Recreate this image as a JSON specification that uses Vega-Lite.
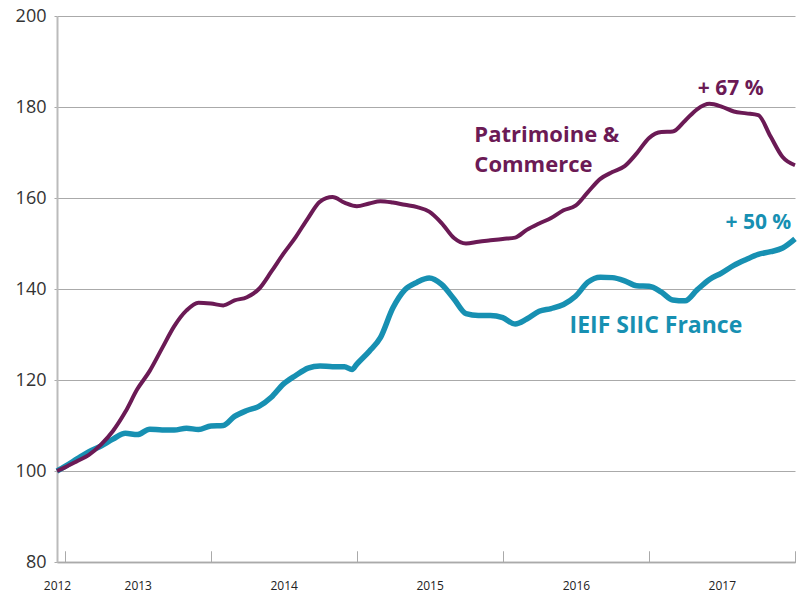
{
  "$schema": "https://vega.github.io/schema/vega-lite/v6.json",
  "width": 738,
  "height": 546,
  "autosize": "none",
  "padding": {"left": 57, "top": 16, "right": 15, "bottom": 30},
  "background": "white",
  "config": {"view": {"stroke": null}, "font": "Open Sans"},
  "datasets": {
    "ieif": [
      {"d": "2012-12-12", "v": 100},
      {"d": "2013-01-01", "v": 101}, {"d": "2013-02-01", "v": 102.7}, {"d": "2013-03-01", "v": 104.2}, {"d": "2013-04-01", "v": 105.5},
      {"d": "2013-05-01", "v": 107}, {"d": "2013-06-01", "v": 108.3}, {"d": "2013-07-01", "v": 108}, {"d": "2013-08-01", "v": 109.2},
      {"d": "2013-09-01", "v": 109}, {"d": "2013-10-01", "v": 109}, {"d": "2013-11-01", "v": 109.4}, {"d": "2013-12-01", "v": 109.1},
      {"d": "2014-01-01", "v": 109.9}, {"d": "2014-02-01", "v": 110}, {"d": "2014-03-01", "v": 112}, {"d": "2014-04-01", "v": 113.3},
      {"d": "2014-05-01", "v": 114.2}, {"d": "2014-06-01", "v": 116.2}, {"d": "2014-07-01", "v": 119.1}, {"d": "2014-08-01", "v": 121},
      {"d": "2014-09-01", "v": 122.6}, {"d": "2014-10-01", "v": 123.1}, {"d": "2014-11-01", "v": 122.9}, {"d": "2014-12-01", "v": 122.9},
      {"d": "2014-12-20", "v": 122.3},
      {"d": "2015-01-01", "v": 123.5}, {"d": "2015-02-01", "v": 126.3}, {"d": "2015-03-01", "v": 129.3}, {"d": "2015-04-01", "v": 135.8},
      {"d": "2015-05-01", "v": 139.8}, {"d": "2015-06-01", "v": 141.5}, {"d": "2015-07-01", "v": 142.4}, {"d": "2015-08-01", "v": 141},
      {"d": "2015-09-01", "v": 137.8}, {"d": "2015-10-01", "v": 134.6}, {"d": "2015-11-01", "v": 134.2}, {"d": "2015-12-01", "v": 134.2},
      {"d": "2016-01-01", "v": 133.7}, {"d": "2016-02-01", "v": 132.3}, {"d": "2016-03-01", "v": 133.4}, {"d": "2016-04-01", "v": 135.1},
      {"d": "2016-05-01", "v": 135.7}, {"d": "2016-06-01", "v": 136.6}, {"d": "2016-07-01", "v": 138.4}, {"d": "2016-08-01", "v": 141.5},
      {"d": "2016-09-01", "v": 142.6}, {"d": "2016-10-01", "v": 142.5}, {"d": "2016-11-01", "v": 141.8}, {"d": "2016-12-01", "v": 140.7},
      {"d": "2017-01-01", "v": 140.6}, {"d": "2017-02-01", "v": 139.3}, {"d": "2017-03-01", "v": 137.6}, {"d": "2017-04-01", "v": 137.4},
      {"d": "2017-05-01", "v": 139.8}, {"d": "2017-06-01", "v": 142.1}, {"d": "2017-07-01", "v": 143.5}, {"d": "2017-08-01", "v": 145.2},
      {"d": "2017-09-01", "v": 146.5}, {"d": "2017-10-01", "v": 147.6}, {"d": "2017-11-01", "v": 148.2}, {"d": "2017-12-01", "v": 149},
      {"d": "2018-01-01", "v": 151}
    ],
    "pc": [
      {"d": "2012-12-12", "v": 100},
      {"d": "2013-01-01", "v": 100.8}, {"d": "2013-02-01", "v": 102.2}, {"d": "2013-03-01", "v": 103.5}, {"d": "2013-04-01", "v": 105.8},
      {"d": "2013-05-01", "v": 108.8}, {"d": "2013-06-01", "v": 113}, {"d": "2013-07-01", "v": 118}, {"d": "2013-08-01", "v": 122},
      {"d": "2013-09-01", "v": 127}, {"d": "2013-10-01", "v": 131.8}, {"d": "2013-11-01", "v": 135.3}, {"d": "2013-12-01", "v": 137},
      {"d": "2014-01-01", "v": 136.8}, {"d": "2014-02-01", "v": 136.4}, {"d": "2014-03-01", "v": 137.5}, {"d": "2014-04-01", "v": 138.2},
      {"d": "2014-05-01", "v": 140}, {"d": "2014-06-01", "v": 143.8}, {"d": "2014-07-01", "v": 147.7}, {"d": "2014-08-01", "v": 151.4},
      {"d": "2014-09-01", "v": 155.6}, {"d": "2014-10-01", "v": 159.2}, {"d": "2014-11-01", "v": 160.2}, {"d": "2014-12-01", "v": 159},
      {"d": "2015-01-01", "v": 158.2}, {"d": "2015-02-01", "v": 158.8}, {"d": "2015-03-01", "v": 159.3}, {"d": "2015-04-01", "v": 159},
      {"d": "2015-05-01", "v": 158.5}, {"d": "2015-06-01", "v": 158}, {"d": "2015-07-01", "v": 157}, {"d": "2015-08-01", "v": 154.5},
      {"d": "2015-09-01", "v": 151.2}, {"d": "2015-10-01", "v": 150}, {"d": "2015-11-01", "v": 150.4}, {"d": "2015-12-01", "v": 150.7},
      {"d": "2016-01-01", "v": 151}, {"d": "2016-02-01", "v": 151.3}, {"d": "2016-03-01", "v": 153}, {"d": "2016-04-01", "v": 154.4},
      {"d": "2016-05-01", "v": 155.6}, {"d": "2016-06-01", "v": 157.3}, {"d": "2016-07-01", "v": 158.3}, {"d": "2016-08-01", "v": 161.3},
      {"d": "2016-09-01", "v": 164.2}, {"d": "2016-10-01", "v": 165.7}, {"d": "2016-11-01", "v": 167}, {"d": "2016-12-01", "v": 169.8},
      {"d": "2017-01-01", "v": 173.2}, {"d": "2017-02-01", "v": 174.5}, {"d": "2017-03-01", "v": 174.6}, {"d": "2017-04-01", "v": 177},
      {"d": "2017-05-01", "v": 179.5}, {"d": "2017-06-01", "v": 180.7}, {"d": "2017-07-01", "v": 180.1}, {"d": "2017-08-01", "v": 179},
      {"d": "2017-09-01", "v": 178.6}, {"d": "2017-10-01", "v": 178.2}, {"d": "2017-11-01", "v": 173.5}, {"d": "2017-12-01", "v": 169},
      {"d": "2018-01-01", "v": 167.2}
    ],
    "labels": [
      {"d": "2015-10-22", "v": 172.3, "t": "Patrimoine &", "s": "P"},
      {"d": "2015-10-22", "v": 165.7, "t": "Commerce", "s": "P"},
      {"d": "2017-05-03", "v": 182.6, "t": "+ 67 %", "s": "P"},
      {"d": "2017-07-11", "v": 153.2, "t": "+ 50 %", "s": "I"},
      {"d": "2016-06-16", "v": 130.3, "t": "IEIF SIIC France", "s": "I"}
    ]
  },
  "encoding": {
    "x": {
      "field": "d", "type": "temporal",
      "scale": {"type": "utc", "domain": [{"year": 2012, "month": 12, "date": 12, "utc": true}, {"year": 2018, "month": 1, "date": 1, "utc": true}]},
      "axis": {
        "orient": "bottom", "title": null, "grid": false, "labels": false,
        "values": [
          {"year": 2013, "month": 1, "date": 1, "utc": true},
          {"year": 2014, "month": 1, "date": 1, "utc": true},
          {"year": 2015, "month": 1, "date": 1, "utc": true},
          {"year": 2016, "month": 1, "date": 1, "utc": true},
          {"year": 2017, "month": 1, "date": 1, "utc": true},
          {"year": 2018, "month": 1, "date": 1, "utc": true}
        ],
        "tickSize": -11, "tickColor": "#aaaaaa", "tickWidth": 1,
        "domainColor": "#aaaaaa", "domainWidth": 1.5
      }
    },
    "y": {
      "field": "v", "type": "quantitative",
      "scale": {"domain": [80, 200], "nice": false, "zero": false},
      "axis": {
        "title": null, "values": [80, 100, 120, 140, 160, 180, 200],
        "grid": true, "gridColor": "#aaaaaa", "gridWidth": 1,
        "tickSize": 3, "tickColor": "#aaaaaa",
        "domainColor": "#bbbbbb", "domainWidth": 2,
        "labelFontSize": 18, "labelColor": "#333333", "labelPadding": 8, "labelFont": "Open Sans"
      }
    }
  },
  "layer": [
    {
      "data": {"name": "ieif"},
      "mark": {"type": "line", "color": "#1790b2", "strokeWidth": 5.5, "interpolate": "monotone"}
    },
    {
      "data": {"name": "pc"},
      "mark": {"type": "line", "color": "#6b1a55", "strokeWidth": 4, "interpolate": "monotone"}
    },
    {
      "data": {"name": "labels"},
      "mark": {"type": "text", "align": "left", "baseline": "alphabetic", "fontWeight": "bold", "font": "Open Sans"},
      "encoding": {
        "x": {
          "field": "d", "type": "temporal",
          "axis": {
            "orient": "bottom", "title": null, "grid": false, "ticks": false, "domain": false,
            "values": [
              {"year": 2012, "month": 12, "date": 12, "utc": true},
              {"year": 2013, "month": 7, "date": 2, "utc": true},
              {"year": 2014, "month": 7, "date": 2, "utc": true},
              {"year": 2015, "month": 7, "date": 2, "utc": true},
              {"year": 2016, "month": 7, "date": 2, "utc": true},
              {"year": 2017, "month": 7, "date": 2, "utc": true}
            ],
            "labelExpr": "utcFormat(datum.value, '%Y')",
            "labelPadding": 18, "labelFontSize": 12, "labelColor": "#222222",
            "labelFlush": false, "labelOverlap": false, "labelFont": "Open Sans"
          }
        },
        "text": {"field": "t"},
        "size": {
          "condition": [
            {"test": "indexof(datum.t, '%') >= 0", "value": 21},
            {"test": "datum.t == 'IEIF SIIC France'", "value": 23}
          ],
          "value": 22
        },
        "color": {"field": "s", "type": "nominal", "scale": {"domain": ["P", "I"], "range": ["#6b1a55", "#1790b2"]}, "legend": null}
      }
    }
  ],
  "resolve": {"axis": {"x": "independent"}}
}
